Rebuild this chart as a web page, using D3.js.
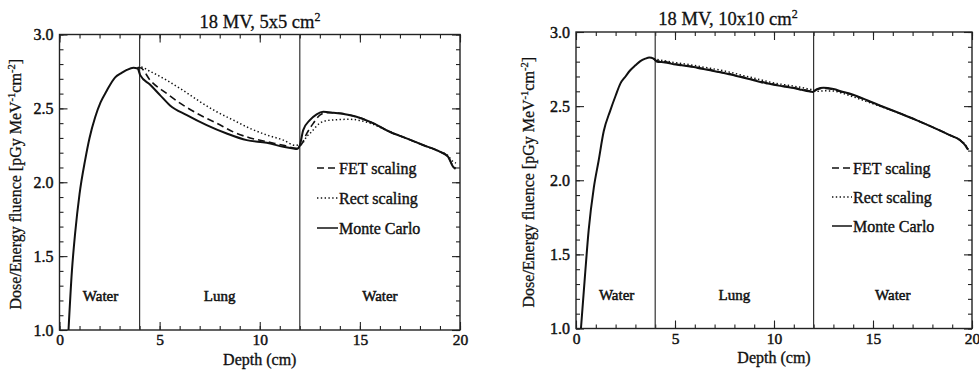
<!DOCTYPE html>
<html>
<head>
<meta charset="utf-8">
<script src="https://cdn.jsdelivr.net/npm/d3@7/dist/d3.min.js"></script>
<style>
  html, body { margin: 0; padding: 0; background: #fff; }
  svg { display: block; }
  svg text { font-family: "Liberation Serif", "DejaVu Serif", "Times New Roman", Times, serif !important; fill: #111; }
</style>
</head>
<body>
<svg id="chart" width="979" height="373"></svg>
<script>
// ---------------- DATA ----------------
const xTicks = [0, 5, 10, 15, 20];
const yTicks = [1.0, 1.5, 2.0, 2.5, 3.0];
const regionLabels = ["Water", "Lung", "Water"];
const regionCenters = [2, 8, 16];
const interfaces = [4, 12];
const seriesNames = ["FET scaling", "Rect scaling", "Monte Carlo"];

// Panel A: 18 MV, 5x5 cm2
const a_mcDepth = [0.45,0.62,0.78,1.0,1.28,1.5,1.78,2.05,2.36,2.78,3.1,3.36,3.69,3.9,4.03,4.53,5.02,5.52,6.36,7.35,8.35,9.35,10.35,11.18,11.68,11.85,12.0,12.17,12.5,12.84,13.17,13.68,14.83,15.66,16.49,17.33,18.15,18.99,19.4,19.65,19.78];
const a_mcDose  = [1.0,1.4,1.654,1.92,2.15,2.3,2.44,2.54,2.62,2.71,2.74,2.76,2.775,2.77,2.725,2.66,2.59,2.52,2.455,2.387,2.33,2.285,2.267,2.24,2.228,2.225,2.25,2.353,2.42,2.46,2.477,2.47,2.443,2.40,2.342,2.297,2.252,2.207,2.173,2.105,2.09];
const a_fetDepth = [3.9,4.03,4.53,5.36,6.19,7.02,7.85,8.69,9.52,10.35,11.18,11.85,12.1,12.35,12.68,13.0,13.3,13.68,14.83,15.66,16.49,17.33,18.15,18.99,19.4,19.65,19.78];
const a_fetDose  = [2.775,2.775,2.69,2.60,2.52,2.455,2.40,2.34,2.30,2.275,2.25,2.23,2.26,2.33,2.40,2.455,2.47,2.47,2.443,2.40,2.342,2.297,2.252,2.207,2.175,2.11,2.095];
const a_rectDepth = [3.9,4.03,4.53,5.36,6.19,7.02,7.85,8.69,9.52,10.35,11.18,11.76,12.0,12.1,12.35,12.59,13.0,13.5,14.5,15.5,16.49,17.33,18.15,18.99,19.4,19.65,19.8];
const a_rectDose  = [2.775,2.78,2.75,2.69,2.62,2.545,2.477,2.42,2.364,2.32,2.285,2.25,2.255,2.26,2.31,2.342,2.40,2.42,2.426,2.40,2.342,2.297,2.252,2.207,2.18,2.14,2.13];

// Panel B: 18 MV, 10x10 cm2
const b_mcDepth = [0.25,0.45,0.64,0.9,1.14,1.4,1.73,2.0,2.24,2.5,2.74,3.0,3.25,3.5,3.7,3.92,4.09,4.5,4.93,5.35,5.94,6.35,6.78,7.2,7.63,8.05,8.47,8.9,9.31,9.7,10.15,10.6,10.99,11.4,11.75,11.95,12.17,12.5,13.0,13.5,13.85,14.7,15.54,16.38,17.22,18.06,18.9,19.4,19.66,19.8];
const b_mcDose  = [1.0,1.35,1.663,1.95,2.13,2.33,2.47,2.57,2.652,2.70,2.742,2.775,2.804,2.82,2.828,2.82,2.80,2.795,2.782,2.775,2.764,2.752,2.742,2.73,2.719,2.705,2.692,2.678,2.663,2.652,2.64,2.63,2.622,2.61,2.60,2.595,2.615,2.624,2.615,2.595,2.584,2.54,2.494,2.45,2.404,2.355,2.303,2.27,2.235,2.205];
const b_fetDepth = [3.92,4.09,4.5,4.93,5.35,5.94,6.35,6.78,7.2,7.63,8.05,8.47,8.9,9.31,9.7,10.15,10.6,10.99,11.4,11.75,11.95,12.17,12.5,13.0,13.5,13.85,14.7,15.54,16.38,17.22,18.06,18.9,19.4,19.66,19.8];
const b_fetDose  = [2.82,2.805,2.80,2.785,2.778,2.765,2.755,2.745,2.732,2.722,2.708,2.695,2.68,2.667,2.655,2.643,2.633,2.625,2.613,2.603,2.598,2.612,2.62,2.612,2.592,2.58,2.537,2.492,2.45,2.404,2.355,2.303,2.27,2.237,2.207];
const b_rectDepth = [3.92,4.09,4.5,4.93,5.35,5.94,6.35,6.78,7.2,7.63,8.05,8.47,8.9,9.31,9.7,10.15,10.6,10.99,11.4,11.75,11.95,12.17,12.5,13.0,13.5,13.85,14.7,15.54,16.38,17.22,18.06,18.9,19.4,19.66,19.8];
const b_rectDose  = [2.82,2.815,2.805,2.795,2.787,2.775,2.765,2.755,2.745,2.733,2.72,2.705,2.692,2.678,2.665,2.652,2.643,2.635,2.625,2.615,2.61,2.60,2.603,2.602,2.585,2.57,2.53,2.49,2.45,2.404,2.355,2.303,2.27,2.24,2.21];

// ---------------- DRAW ----------------
const svg = d3.select("#chart");
const zip = (xs, ys) => xs.map((x, i) => [x, ys[i]]);
const FONT = "'Liberation Serif', 'DejaVu Serif', serif";

const panels = [
  { title: "18 MV, 5x5 cm", x0: 59.5, x1: 460, y0: 34.5, y1: 330, titleX: 260, titleY: 28, ytitleX: 21,
    series: [zip(a_fetDepth, a_fetDose), zip(a_rectDepth, a_rectDose), zip(a_mcDepth, a_mcDose)],
    legX0: 317, legX1: 338, legY: [168, 198, 228] },
  { title: "18 MV, 10x10 cm", x0: 576, x1: 972, y0: 32, y1: 328.5, titleX: 728, titleY: 24.5, ytitleX: 534,
    series: [zip(b_fetDepth, b_fetDose), zip(b_rectDepth, b_rectDose), zip(b_mcDepth, b_mcDose)],
    legX0: 832, legX1: 852, legY: [168, 197, 226] }
];

const styles = [
  { dash: "7,4", width: 1.6 },
  { dash: "1.4,2.4", width: 1.5 },
  { dash: null, width: 2.0 }
];

panels.forEach(p => {
  const x = d3.scaleLinear().domain([0, 20]).range([p.x0, p.x1]);
  const y = d3.scaleLinear().domain([1.0, 3.0]).range([p.y1, p.y0]);
  const g = svg.append("g");

  const xMinor = d3.range(0, 21, 1);
  const yMinor = d3.range(10, 31, 1).map(v => v / 10);
  const mkAxis = (axisFn, scale, vals, size, labels, pad) => {
    const a = axisFn(scale).tickValues(vals).tickSizeInner(size).tickSizeOuter(0).tickPadding(pad || 6);
    if (!labels) a.tickFormat("");
    else a.tickFormat(d3.format(scale === x ? "d" : ".1f"));
    return a;
  };
  g.append("g").attr("transform", `translate(0,${p.y1})`).call(mkAxis(d3.axisBottom, x, xMinor, -4, false));
  g.append("g").attr("class", "xlab").attr("transform", `translate(0,${p.y1})`).call(mkAxis(d3.axisBottom, x, xTicks, -8, true, 4));
  g.append("g").attr("transform", `translate(0,${p.y0})`).call(mkAxis(d3.axisTop, x, xMinor, -4, false));
  g.append("g").attr("transform", `translate(0,${p.y0})`).call(mkAxis(d3.axisTop, x, xTicks, -8, false));
  g.append("g").attr("transform", `translate(${p.x0},0)`).call(mkAxis(d3.axisLeft, y, yMinor, -4, false));
  g.append("g").attr("class", "ylab").attr("transform", `translate(${p.x0},0)`).call(mkAxis(d3.axisLeft, y, yTicks, -8, true, 6));
  g.append("g").attr("transform", `translate(${p.x1},0)`).call(mkAxis(d3.axisRight, y, yMinor, -4, false));
  g.append("g").attr("transform", `translate(${p.x1},0)`).call(mkAxis(d3.axisRight, y, yTicks, -8, false));

  g.selectAll("g").attr("font-family", FONT);
  g.selectAll(".domain").remove();
  g.selectAll(".tick line").attr("stroke", "#222").attr("stroke-width", 1.1);
  g.selectAll(".tick text").attr("font-size", 16)
    .attr("fill", "#111").attr("stroke", "#111").attr("stroke-width", 0.45);
  g.selectAll(".xlab .tick text").attr("font-size", 15.5).attr("dy", "0.71em");

  g.append("rect").attr("x", p.x0).attr("y", p.y0).attr("width", p.x1 - p.x0).attr("height", p.y1 - p.y0)
    .attr("fill", "none").attr("stroke", "#222").attr("stroke-width", 1.4);

  interfaces.forEach(d => {
    g.append("line").attr("x1", x(d)).attr("x2", x(d)).attr("y1", p.y0).attr("y2", p.y1)
      .attr("stroke", "#333").attr("stroke-width", 1.2);
  });

  regionLabels.forEach((t, i) => {
    g.append("text").attr("x", x(regionCenters[i]) + (i === 0 ? 1 : 0)).attr("y", p.y1 - 29)
      .attr("text-anchor", "middle").attr("font-size", 15).attr("font-family", FONT)
      .attr("stroke", "#111").attr("stroke-width", 0.5).text(t);
  });

  const line = d3.line().x(d => x(d[0])).y(d => y(d[1])).curve(d3.curveMonotoneX);
  p.series.forEach((s, i) => {
    g.append("path").datum(s).attr("d", line).attr("fill", "none")
      .attr("stroke", "#111").attr("stroke-width", styles[i].width)
      .attr("stroke-dasharray", styles[i].dash);
  });

  seriesNames.forEach((n, i) => {
    g.append("line").attr("x1", p.legX0).attr("x2", p.legX1).attr("y1", p.legY[i]).attr("y2", p.legY[i])
      .attr("stroke", "#111").attr("stroke-width", i === 2 ? 1.5 : 1.3).attr("stroke-dasharray", styles[i].dash);
    g.append("text").attr("x", p.legX1 + 1).attr("y", p.legY[i] + 6).attr("font-size", 16).attr("font-family", FONT)
      .attr("stroke", "#111").attr("stroke-width", 0.4).text(n);
  });

  const t = g.append("text").attr("x", p.titleX).attr("y", p.titleY).attr("text-anchor", "middle")
    .attr("font-size", 18.5).attr("font-family", FONT).attr("stroke", "#111").attr("stroke-width", 0.3);
  t.append("tspan").text(p.title);
  t.append("tspan").attr("dy", -7).attr("font-size", 12).text("2");

  g.append("text").attr("x", (p.x0 + p.x1) / 2).attr("y", p.y1 + 34.5).attr("text-anchor", "middle")
    .attr("font-size", 16).attr("font-family", FONT).attr("stroke", "#111").attr("stroke-width", 0.35).text("Depth (cm)");

  const yt = g.append("text").attr("transform", `translate(${p.ytitleX},${(p.y0 + p.y1) / 2 + 2}) rotate(-90)`)
    .attr("text-anchor", "middle").attr("font-size", 16).attr("font-family", FONT)
    .attr("stroke", "#111").attr("stroke-width", 0.3);
  yt.append("tspan").text("Dose/Energy fluence [pGy MeV");
  yt.append("tspan").attr("dy", -6).attr("font-size", 10.5).text("-1");
  yt.append("tspan").attr("dy", 6).text("cm");
  yt.append("tspan").attr("dy", -6).attr("font-size", 10.5).text("-2");
  yt.append("tspan").attr("dy", 6).text("]");
});
</script>
</body>
</html>
